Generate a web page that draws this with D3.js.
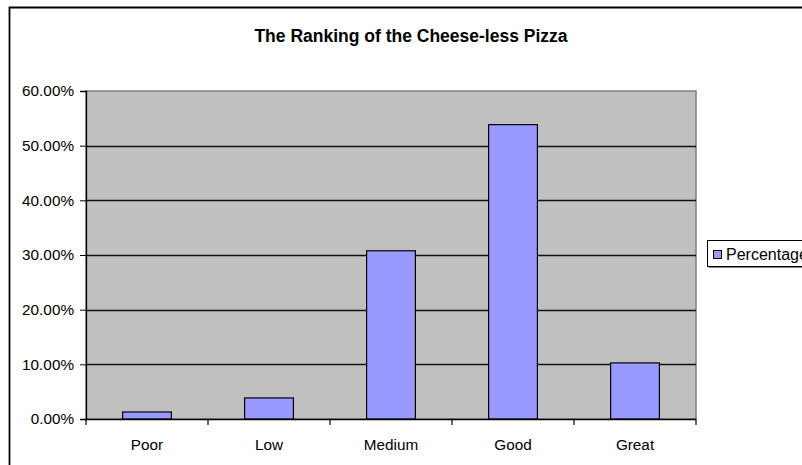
<!DOCTYPE html>
<html>
<head>
<meta charset="utf-8">
<script src="https://cdn.jsdelivr.net/npm/d3@7"></script>
<style>
  html, body { margin: 0; padding: 0; background: #fff; }
  svg { display: block; }
  text { font-family: "Liberation Sans", Arial, sans-serif; }
</style>
</head>
<body>
<svg id="chart" width="802" height="465"></svg>
<script>
const categories = ["Poor", "Low", "Medium", "Good", "Great"];
const percentages = [1.28, 3.85, 30.77, 53.85, 10.26];
const yTicks = [0, 10, 20, 30, 40, 50, 60];
const chartTitle = "The Ranking of the Cheese-less Pizza";
const seriesName = "Percentage";

const svg = d3.select("#chart");
const W = 802, H = 465;
const plot = { left: 86, top: 91, right: 696, bottom: 419 };

// outer frame (left + top border; right/bottom off-canvas)
svg.append("path")
  .attr("d", `M9.5,${H + 2} L9.5,7.5 L${W + 2},7.5`)
  .attr("fill", "none").attr("stroke", "#000").attr("stroke-width", 1.8);

// title
svg.append("text")
  .attr("x", 411).attr("y", 42)
  .attr("text-anchor", "middle")
  .attr("font-size", 17.5).attr("font-weight", "bold")
  .text(chartTitle);

const x = d3.scaleBand().domain(categories).range([plot.left, plot.right]).padding(0);
const y = d3.scaleLinear().domain([0, 60]).range([plot.bottom, plot.top]);

// plot background
svg.append("rect")
  .attr("x", plot.left).attr("y", plot.top)
  .attr("width", plot.right - plot.left).attr("height", plot.bottom - plot.top)
  .attr("fill", "#C0C0C0")
  .attr("stroke", "#808080").attr("stroke-width", 1.5);

// gridlines
svg.append("g").selectAll("line")
  .data(yTicks.filter(d => d > 0 && d < 60))
  .join("line")
  .attr("x1", plot.left).attr("x2", plot.right)
  .attr("y1", d => Math.round(y(d)) + 0.5).attr("y2", d => Math.round(y(d)) + 0.5)
  .attr("stroke", "#111").attr("stroke-width", 1.5);

// bars
const barW = x.bandwidth() / 2.5;
svg.append("g").selectAll("rect")
  .data(categories.map((c, i) => ({ c, v: percentages[i] })))
  .join("rect")
  .attr("x", d => x(d.c) + (x.bandwidth() - barW) / 2)
  .attr("y", d => y(d.v))
  .attr("width", barW)
  .attr("height", d => y(0) - y(d.v))
  .attr("fill", "#9999FF")
  .attr("stroke", "#000").attr("stroke-width", 1.2);

// y axis
const yAxis = svg.append("g")
  .attr("transform", `translate(${plot.left},0)`)
  .call(d3.axisLeft(y).tickValues(yTicks).tickFormat(d => d.toFixed(2) + "%").tickSize(6).tickPadding(6));
yAxis.select(".domain").attr("stroke", "#000").attr("stroke-width", 1.3);
yAxis.selectAll(".tick line").attr("stroke", "#000");
yAxis.selectAll("text").attr("font-size", 15.3).attr("fill", "#000")
  .attr("font-family", "'Liberation Sans', Arial, sans-serif");

// x axis line
svg.append("line")
  .attr("x1", plot.left).attr("x2", plot.right)
  .attr("y1", plot.bottom + 0.5).attr("y2", plot.bottom + 0.5)
  .attr("stroke", "#000").attr("stroke-width", 1.3);

// x boundary ticks
const boundaries = categories.map(c => x(c)).concat([x(categories[categories.length - 1]) + x.bandwidth()]);
svg.append("g").selectAll("line")
  .data(boundaries)
  .join("line")
  .attr("x1", d => d).attr("x2", d => d)
  .attr("y1", plot.bottom).attr("y2", plot.bottom + 6)
  .attr("stroke", "#000").attr("stroke-width", 1.2);

// x labels
const xAxis = svg.append("g")
  .attr("transform", `translate(0,${plot.bottom})`)
  .call(d3.axisBottom(x).tickSize(0).tickPadding(20));
xAxis.select(".domain").remove();
xAxis.selectAll("text").attr("font-size", 15.3).attr("fill", "#000")
  .attr("font-family", "'Liberation Sans', Arial, sans-serif");

// legend
const lg = svg.append("g");
lg.append("rect").attr("x", 709).attr("y", 242).attr("width", 120).attr("height", 26).attr("fill", "#808080");
lg.append("rect").attr("x", 707.5).attr("y", 240.5).attr("width", 120).attr("height", 26)
  .attr("fill", "#fff").attr("stroke", "#000").attr("stroke-width", 1);
lg.append("rect").attr("x", 713.5).attr("y", 250.5).attr("width", 8).attr("height", 8)
  .attr("fill", "#9999FF").attr("stroke", "#000").attr("stroke-width", 1);
lg.append("text").attr("x", 726).attr("y", 260).attr("font-size", 16).text(seriesName);
</script>
</body>
</html>
